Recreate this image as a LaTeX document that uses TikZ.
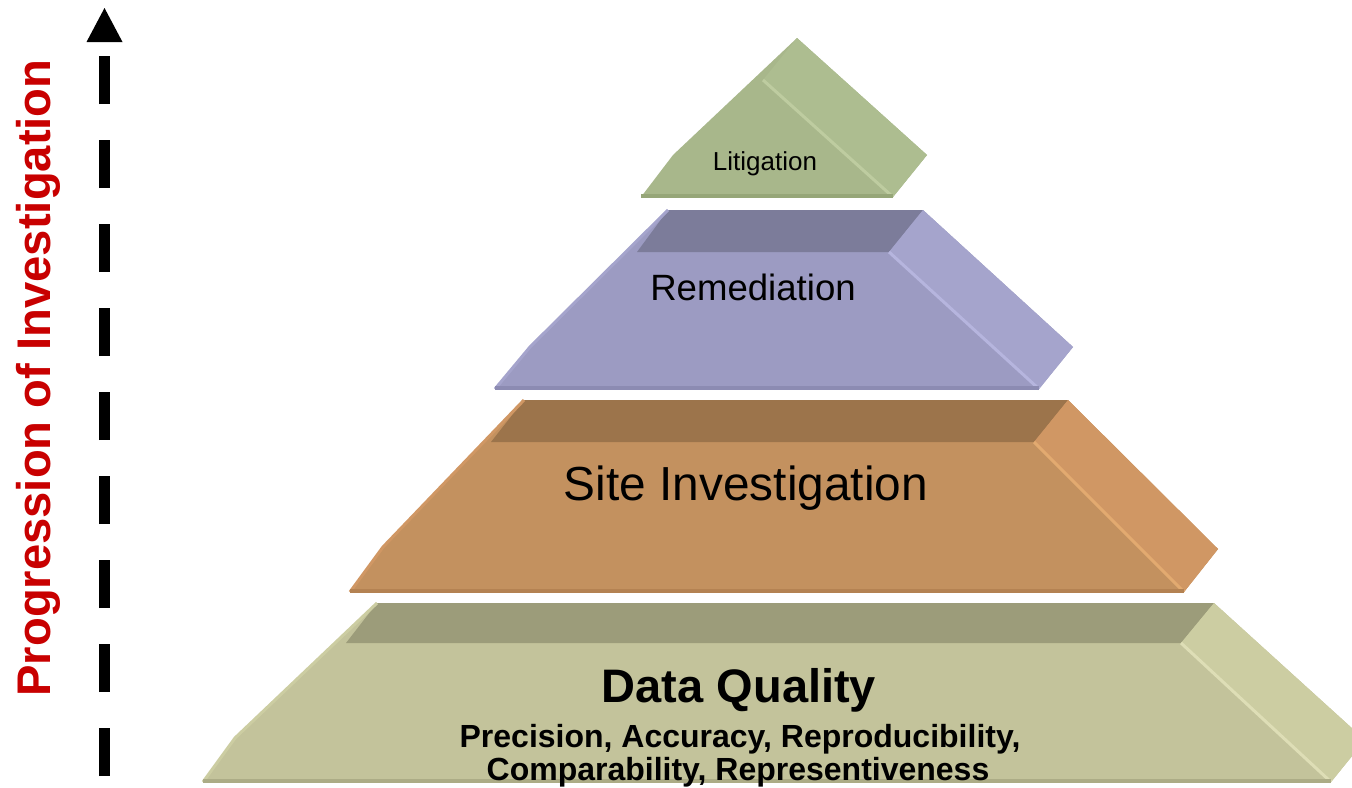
\documentclass[tikz,border=0pt]{standalone}
\usepackage{fontspec}
\setmainfont{Liberation Sans}
\usepackage{tikz}
\usetikzlibrary{arrows.meta}

\definecolor{litfront}{RGB}{168,183,139}
\definecolor{litside}{RGB}{173,189,144}
\definecolor{litline}{RGB}{190,204,160}
\definecolor{litedge}{RGB}{150,166,120}
\definecolor{remfront}{RGB}{156,155,194}
\definecolor{remtop}{RGB}{124,124,154}
\definecolor{remside}{RGB}{165,164,204}
\definecolor{remline}{RGB}{182,181,222}
\definecolor{remedge}{RGB}{140,139,178}
\definecolor{sitefront}{RGB}{195,145,95}
\definecolor{sitetop}{RGB}{156,116,75}
\definecolor{siteside}{RGB}{208,151,100}
\definecolor{siteline}{RGB}{226,170,112}
\definecolor{siteedge}{RGB}{180,130,82}
\definecolor{dqfront}{RGB}{195,195,155}
\definecolor{dqtop}{RGB}{156,156,122}
\definecolor{dqside}{RGB}{204,205,162}
\definecolor{dqline}{RGB}{222,222,182}
\definecolor{dqedge}{RGB}{172,172,134}
\definecolor{progred}{RGB}{200,0,0}

\begin{document}
\begin{tikzpicture}
    [
    x=0.5pt, y=-0.5pt,
    ridge/.style={line width=1.5},
    bottomedge/.style={line width=2},
    tiertext/.style={anchor=base,inner sep=0pt,text=black},
    progarrow/.style={line width=5.5pt,dash pattern=on 24pt off 18pt,
      -{Triangle[length=17pt,width=18pt,line width=0pt]}},
    ]
    \useasboundingbox (0,0) rectangle (1352,787);
    \clip (0,0) rectangle (1352,787);

    \fill [dqfront] (203,782) -- (235,738) -- (377,603) -- (1214,603) -- (1365,740) -- (1331,782) -- cycle;
    \fill [dqtop] (377,603) -- (1214,603) -- (1181,643) -- (346,643) -- cycle;
    \fill [dqside] (1181,643) -- (1214,603) -- (1365,740) -- (1331,782) -- cycle;
    \draw [ridge,dqline] (1181,643) -- (1331,782);
    \draw [ridge,dqside] (203,782) -- (235,738) -- (377,603);
    \draw [bottomedge,dqedge] (203,781) -- (1331,781);

    \fill [sitefront] (350,592) -- (383,547) -- (524,400) -- (1068,400) -- (1218,549) -- (1184,592) -- cycle;
    \fill [sitetop] (524,400) -- (1068,400) -- (1034,442) -- (491,442) -- cycle;
    \fill [siteside] (1034,442) -- (1068,400) -- (1218,549) -- (1184,592) -- cycle;
    \draw [ridge,siteline] (1034,442) -- (1184,592);
    \draw [ridge,siteside] (350,592) -- (383,547) -- (524,400);
    \draw [bottomedge,siteedge] (350,591) -- (1184,591);

    \fill [remfront] (495,389) -- (530,347) -- (668,210) -- (923,210) -- (1073,347) -- (1039,389) -- cycle;
    \fill [remtop] (668,210) -- (923,210) -- (889,252) -- (637,252) -- cycle;
    \fill [remside] (889,252) -- (923,210) -- (1073,347) -- (1039,389) -- cycle;
    \draw [ridge,remline] (889,252) -- (1039,389);
    \draw [ridge,remside] (495,389) -- (530,347) -- (668,210);
    \draw [bottomedge,remedge] (495,388) -- (1039,388);

    \fill [litfront] (641,197) -- (673,155) -- (797,38) -- (927,155) -- (893,197) -- cycle;
    \fill [litside] (763,80) -- (797,38) -- (927,155) -- (893,197) -- cycle;
    \draw [ridge,litline] (763,80) -- (893,197);
    \draw [bottomedge,litedge] (641,196) -- (893,196);

    \node (litigation) at (765,170) [tiertext,font=\fontsize{13}{16}\selectfont] {Litigation};
    \node (remediation) at (753,300) [tiertext,font=\fontsize{18.3}{22}\selectfont] {Remediation};
    \node (siteinv) at (746,500) [tiertext,font=\fontsize{23.9}{28}\selectfont] {Site Investigation};
    \node (dataq) at (739,702) [tiertext,font=\bfseries\fontsize{23.5}{28}\selectfont] {Data Quality};
    \node (dqline1) at (740,747) [tiertext,font=\bfseries\fontsize{16}{19}\selectfont] {Precision, Accuracy, Reproducibility,};
    \node (dqline2) at (738,780) [tiertext,font=\bfseries\fontsize{16}{19}\selectfont] {Comparability, Representiveness};

    \node (progress) at (50.5,378) [anchor=base,inner sep=0pt,rotate=90,text=progred,
      font=\bfseries\fontsize{23.6}{28}\selectfont] {Progression of Investigation};
    \coordinate (arrowstart) at (104.5,776);
    \coordinate (arrowend) at (104.5,8);
    \draw [progarrow] (arrowstart) -- (arrowend);
  \end{tikzpicture}
\end{document}
